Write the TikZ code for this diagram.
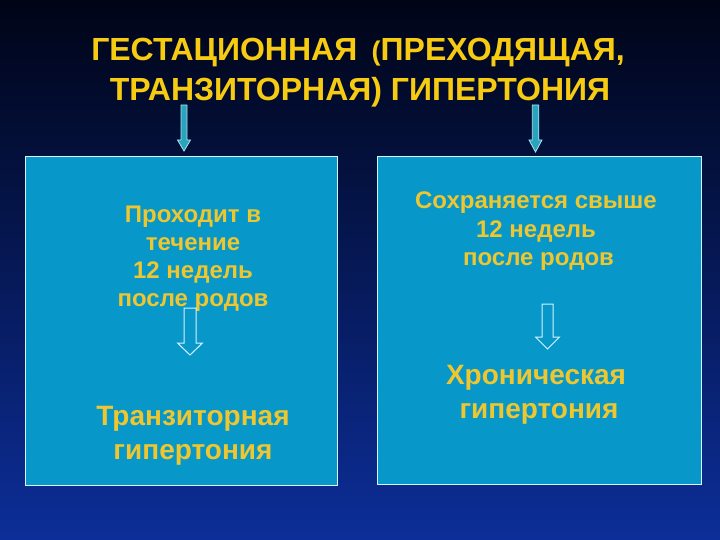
\documentclass[tikz,border=0pt]{standalone}
\usepackage{fontspec}
\setmainfont{Liberation Sans}
\definecolor{bgtop}{HTML}{000416}
\definecolor{bgmid}{HTML}{0A2482}
\definecolor{bgbot}{HTML}{0C2E98}
\definecolor{boxfill}{HTML}{0797C9}
\definecolor{boxline}{HTML}{D8F2FF}
\definecolor{titleyel}{HTML}{F7CB12}
\definecolor{txtyel}{HTML}{EEC630}
\definecolor{arrfill}{HTML}{2AA3BD}
\definecolor{arrline}{HTML}{A8E4F2}
\newcommand\blockarr[7]{%
  \draw[#7] ({#1-#5/2},#2) -- ({#1+#5/2},#2) -- ({#1+#5/2},#3) -- ({#1+#6/2},#3)
    -- (#1,#4) -- ({#1-#6/2},#3) -- ({#1-#5/2},#3) -- cycle;}
\begin{document}
\begin{tikzpicture}[x=1pt,y=-1pt,
  titletext/.style={text=titleyel, font={\fontsize{32pt}{40pt}\selectfont\bfseries}, inner sep=0pt, anchor=base},
  smalltxt/.style={text=txtyel, font={\fontsize{24pt}{28pt}\selectfont\bfseries}, align=center, inner sep=0pt, anchor=base},
  bigtxt/.style={text=txtyel, font={\fontsize{28pt}{34pt}\selectfont\bfseries}, align=center, inner sep=0pt, anchor=base},
  panel/.style={draw=boxline, fill=boxfill, line width=1.4pt, inner sep=0pt, anchor=north west},
  toparrow/.style={fill=arrfill, draw=arrline, line width=0.8pt, line join=miter},
  innerarrow/.style={draw=boxline, line width=1pt, line join=miter}
]
\useasboundingbox (0,0) rectangle (720,540);
\shade[top color=bgtop, middle color=bgmid, bottom color=bgbot] (0,0) rectangle (720,540);

% title
\node[titletext] (t1) at (358,61) {ГЕСТАЦИОННАЯ\hspace{0.45em}{\fontsize{27pt}{30pt}\selectfont(}ПРЕХОДЯЩАЯ,};
\node[titletext] (t2) at (360,101) {ТРАНЗИТОРНАЯ) ГИПЕРТОНИЯ};

% panels
\node[panel, minimum width=312pt, minimum height=329pt] (boxL) at (25,156) {};
\node[panel, minimum width=324pt, minimum height=328pt] (boxR) at (377,156) {};

% top arrows
\blockarr{184}{105}{140}{151}{6}{13}{toparrow}
\blockarr{535.5}{105}{140}{152}{6.5}{13}{toparrow}

% left panel texts (anchor = baseline of last line)
\node[smalltxt] (l1) at (193,306) {Проходит в\\течение\\12 недель\\после родов};
\node[bigtxt] (l2) at (193,459) {Транзиторная\\гипертония};

% right panel texts
\node[smalltxt] (r1) at (536,265) {Сохраняется свыше\\12 недель\\\hspace{5pt}после родов};
\node[bigtxt] (r2) at (536,418) {Хроническая\\\hspace{6pt}гипертония};

% inner arrows
\blockarr{190}{308}{343}{355}{12}{25}{innerarrow}
\blockarr{547.5}{304}{337}{349}{11}{24}{innerarrow}
\end{tikzpicture}
\end{document}
